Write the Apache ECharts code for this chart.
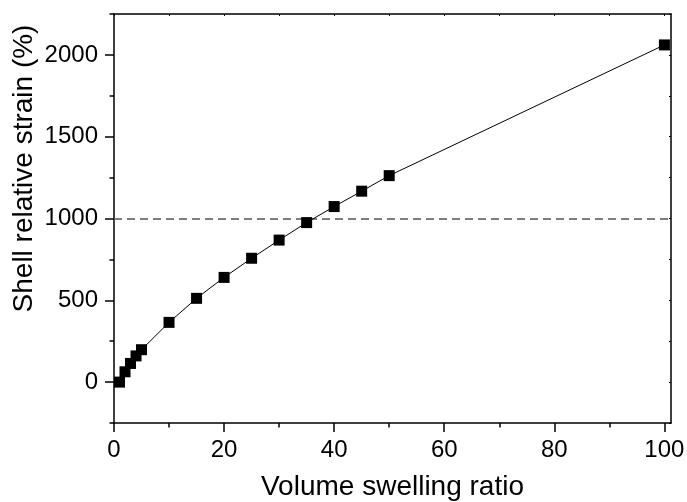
<!DOCTYPE html>
<html>
<head>
<meta charset="utf-8">
<script src="https://cdn.jsdelivr.net/npm/echarts@6/dist/echarts.min.js"></script>
<style>
html,body{margin:0;padding:0;background:#fff;}
#chart{width:687px;height:502px;}
</style>
</head>
<body>
<div id="chart"></div>
<script>
var swellingRatio = [1, 2, 3, 4, 5, 10, 15, 20, 25, 30, 35, 40, 45, 50, 100];
var shellStrain = [0, 63, 114, 160, 198, 365, 512, 640, 757, 868, 975, 1073, 1167, 1262, 2061];
var referenceLevel = 1000;
var xMajorTicks = [0, 20, 40, 60, 80, 100];
var xMinorTicks = [10, 30, 50, 70, 90];
var yMajorTicks = [0, 500, 1000, 1500, 2000];
var yMinorTicks = [-250, 250, 750, 1250, 1750, 2250];
var xRange = [0, 101.2];
var yRange = [-250, 2250];

var FONT = "'Liberation Sans', Arial, sans-serif";
var AX = { color: '#000', width: 1.5 };
function plain(v) { return String(v); }

var points = swellingRatio.map(function (x, i) { return [x, shellStrain[i]]; });

var chart = echarts.init(document.getElementById('chart'));
chart.setOption({
  animation: false,
  backgroundColor: '#fff',
  grid: { left: 114, right: 16, top: 14, height: 409, containLabel: false, outerBoundsMode: 'none' },
  xAxis: [
    {
      type: 'value', position: 'bottom', min: xRange[0], max: xRange[1],
      axisLine: { show: true, onZero: false, lineStyle: AX },
      axisTick: { show: true, length: 9, customValues: xMajorTicks, lineStyle: AX },
      axisLabel: { show: true, customValues: xMajorTicks, formatter: plain, margin: 15, color: '#000', fontSize: 24, fontFamily: FONT },
      splitLine: { show: false },
      name: 'Volume swelling ratio', nameLocation: 'middle', nameGap: 50, nameMoveOverlap: false,
      nameTextStyle: { color: '#000', fontSize: 28, fontFamily: FONT }
    },
    {
      type: 'value', position: 'bottom', min: xRange[0], max: xRange[1],
      axisLine: { show: false, onZero: false },
      axisTick: { show: true, length: 4.5, customValues: xMinorTicks, lineStyle: AX },
      axisLabel: { show: false }, splitLine: { show: false }
    },
    {
      type: 'value', position: 'top', min: xRange[0], max: xRange[1],
      axisLine: { show: true, onZero: false, lineStyle: AX },
      axisTick: { show: true, inside: true, length: 2, customValues: xMajorTicks.concat(xMinorTicks), lineStyle: { color: '#000', width: 1 } },
      axisLabel: { show: false }, splitLine: { show: false }
    }
  ],
  yAxis: [
    {
      type: 'value', position: 'left', min: yRange[0], max: yRange[1],
      axisLine: { show: true, onZero: false, lineStyle: AX },
      axisTick: { show: true, length: 9, customValues: yMajorTicks, lineStyle: AX },
      axisLabel: { show: true, customValues: yMajorTicks, formatter: plain, margin: 16, color: '#000', fontSize: 24, fontFamily: FONT },
      splitLine: { show: false },
      name: 'Shell relative strain (%)', nameLocation: 'middle', nameGap: 76, nameRotate: 90, nameMoveOverlap: false,
      nameTextStyle: { color: '#000', fontSize: 28, fontFamily: FONT, padding: [0, 0, 0, 100] }
    },
    {
      type: 'value', position: 'left', min: yRange[0], max: yRange[1],
      axisLine: { show: false, onZero: false },
      axisTick: { show: true, length: 4.5, customValues: yMinorTicks, lineStyle: AX },
      axisLabel: { show: false }, splitLine: { show: false }
    },
    {
      type: 'value', position: 'right', min: yRange[0], max: yRange[1],
      axisLine: { show: true, onZero: false, lineStyle: AX },
      axisTick: { show: true, inside: true, length: 2, customValues: yMajorTicks.concat(yMinorTicks), lineStyle: { color: '#000', width: 1 } },
      axisLabel: { show: false }, splitLine: { show: false }
    }
  ],
  series: [
    {
      type: 'line', xAxisIndex: 0, yAxisIndex: 0,
      data: points,
      symbol: 'rect', symbolSize: 11,
      itemStyle: { color: '#000' },
      lineStyle: { color: '#000', width: 1 },
      z: 3,
      markLine: {
        silent: true, symbol: ['none', 'none'], z: 1,
        label: { show: false },
        lineStyle: { color: '#555', width: 1.5, type: [8, 5] },
        data: [{ yAxis: referenceLevel }]
      }
    }
  ]
});
</script>
</body>
</html>
